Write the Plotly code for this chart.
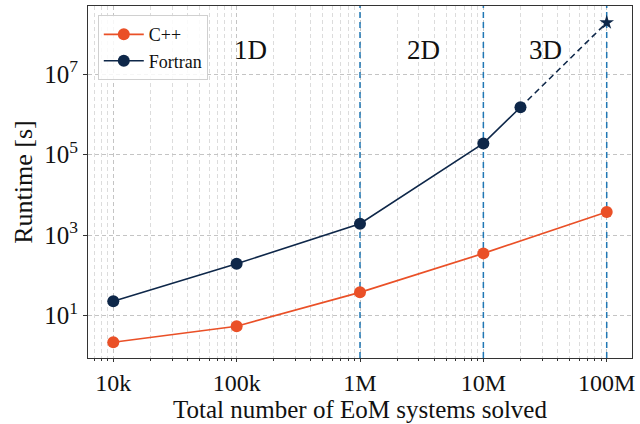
import math
import plotly.graph_objects as go

# ---- data ----
systems = [1e4, 1e5, 1e6, 1e7, 1e8]
cpp_runtime = [2.2, 5.5, 38, 353, 3740]
fortran_systems = [1e4, 1e5, 1e6, 1e7, 2e7]
fortran_runtime = [22.8, 195, 1920, 1.9e5, 1.5e6]
proj_systems = [2e7, 1e8]
proj_runtime = [1.5e6, 1.9e8]
boundaries = [1e6, 1e7, 1e8]
region_labels = ["1D", "2D", "3D"]
region_x = [1.3e5, 3.3e6, 3.2e7]
region_y = 4e7
xtick_vals = [1e4, 1e5, 1e6, 1e7, 1e8]
xtick_text = ["10k", "100k", "1M", "10M", "100M"]
ytick_vals = [1e1, 1e3, 1e5, 1e7]
ytick_text = ["10<sup>1</sup>", "10<sup>3</sup>", "10<sup>5</sup>", "10<sup>7</sup>"]

C_CPP = "#EA5027"
C_FOR = "#0E2749"
FONT = "Liberation Serif"
XR = [3.795, 8.205]
YR = [-0.05, 8.69]

fig = go.Figure()

# vertical dimension boundaries (drawn first so markers sit on top)
vx, vy = [], []
for b in boundaries:
    vx += [b, b, None]
    vy += [10 ** YR[0], 10 ** YR[1], None]
fig.add_trace(go.Scatter(x=vx, y=vy, mode="lines", showlegend=False, hoverinfo="skip",
                         line=dict(color="#1f77b4", width=1.5, dash="6px,4px")))

fig.add_trace(go.Scatter(x=systems, y=cpp_runtime, mode="lines+markers", name="C++",
                         line=dict(color=C_CPP, width=1.6),
                         marker=dict(color=C_CPP, size=12)))
fig.add_trace(go.Scatter(x=fortran_systems, y=fortran_runtime, mode="lines+markers", name="Fortran",
                         line=dict(color=C_FOR, width=1.6),
                         marker=dict(color=C_FOR, size=12)))
fig.add_trace(go.Scatter(x=proj_systems, y=proj_runtime, mode="lines", showlegend=False,
                         line=dict(color=C_FOR, width=1.6, dash="6px,4px")))
fig.add_trace(go.Scatter(x=proj_systems[-1:], y=proj_runtime[-1:], mode="markers", showlegend=False,
                         marker=dict(color=C_FOR, size=11, symbol="star")))

# annotations on log axes take log10 coordinates
for lab, rx in zip(region_labels, region_x):
    fig.add_annotation(x=math.log10(rx), y=math.log10(region_y), xref="x", yref="y",
                       text=lab, showarrow=False,
                       font=dict(family=FONT, size=27, color="#111"))

minor_x = [m * 10 ** e for e in range(3, 9) for m in range(2, 10)]

fig.update_xaxes(type="log", range=XR, automargin=False,
                 tickvals=xtick_vals, ticktext=xtick_text,
                 ticks="outside", ticklen=3, tickcolor="#333", tickwidth=1,
                 showline=True, linecolor="#333", linewidth=1, mirror=True,
                 showgrid=True, gridcolor="#c4c4c4", griddash="4px,3px", gridwidth=1,
                 minor=dict(tickvals=minor_x, ticks="outside", ticklen=2, tickcolor="#333",
                            showgrid=True, gridcolor="#dcdcdc", griddash="4px,3px", gridwidth=1),
                 tickfont=dict(family=FONT, size=24, color="#111"),
                 title=dict(text="Total number of EoM systems solved",
                            font=dict(family=FONT, size=25, color="#111"), standoff=0),
                 zeroline=False)
fig.update_yaxes(type="log", range=YR, automargin=False,
                 tickvals=ytick_vals, ticktext=ytick_text,
                 ticks="outside", ticklen=4, tickcolor="#333", tickwidth=1,
                 showline=True, linecolor="#333", linewidth=1, mirror=True,
                 showgrid=True, gridcolor="#c4c4c4", griddash="4px,3px", gridwidth=1,
                 tickfont=dict(family=FONT, size=25, color="#111"),
                 title=dict(text="Runtime [s]", font=dict(family=FONT, size=26, color="#111"), standoff=4),
                 zeroline=False)

fig.update_layout(width=640, height=424,
                  margin=dict(l=88, r=8, t=6, b=66),
                  paper_bgcolor="white", plot_bgcolor="white",
                  hovermode=False,
                  legend=dict(x=0.018, y=0.974, xanchor="left", yanchor="top",
                              bgcolor="rgba(255,255,255,0.85)", bordercolor="#d0d0d0", borderwidth=1,
                              font=dict(family=FONT, size=18, color="#111"),
                              tracegroupgap=0, itemwidth=40),
                  showlegend=True)

fig.write_html("out.html", config={"displayModeBar": False},
               post_script="document.body.style.margin='0';document.body.style.overflow='hidden';")
